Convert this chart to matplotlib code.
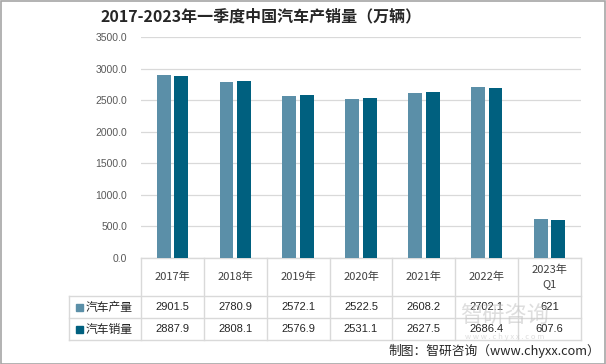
import numpy as np
import matplotlib.pyplot as plt
from matplotlib.patches import Rectangle

plt.rcParams["font.family"] = ["Noto Sans CJK SC", "DejaVu Sans"]

years = ["2017年", "2018年", "2019年", "2020年", "2021年", "2022年", "2023年\nQ1"]
production = [2901.5, 2780.9, 2572.1, 2522.5, 2608.2, 2702.1, 621]
sales = [2887.9, 2808.1, 2576.9, 2531.1, 2627.5, 2686.4, 607.6]
prod_labels = ["2901.5", "2780.9", "2572.1", "2522.5", "2608.2", "2702.1", "621"]
sales_labels = ["2887.9", "2808.1", "2576.9", "2531.1", "2627.5", "2686.4", "607.6"]
series_names = ["汽车产量", "汽车销量"]

c_prod = "#5B8FA8"
c_sales = "#00607F"
c_grid = "#D9D9D9"
c_text = "#404040"

W, H = 606, 364
fig = plt.figure(figsize=(W / 100, H / 100), dpi=100)
ax = fig.add_axes([141 / W, 1 - 258 / H, 440 / W, 221 / H])

x = np.arange(len(years))
bw = 0.22
ax.bar(x - 0.14, production, width=bw, color=c_prod, zorder=3)
ax.bar(x + 0.14, sales, width=bw, color=c_sales, zorder=3)

ax.set_xlim(-0.5, len(years) - 0.5)
ax.set_ylim(0, 3500)
ax.set_yticks(np.arange(0, 3501, 500))
ax.set_yticklabels([f"{v:.1f}" for v in np.arange(0, 3501, 500)], fontsize=7.5, color="#595959",
                   family=["Liberation Sans", "DejaVu Sans"])
ax.tick_params(axis="y", length=0, pad=10)
ax.set_xticks([])
ax.grid(axis="y", color=c_grid, lw=0.9, zorder=0)
for s in ["top", "right", "left", "bottom"]:
    ax.spines[s].set_visible(False)

# table below the plot, in axes coords (x in data units)
ph = 221.0
def yy(px):
    return -(px - 258) / ph

tr = ax.get_xaxis_transform()
lx = -0.5 - 72 / 63.0
lkw = dict(color=c_grid, lw=1, transform=tr, clip_on=False)
for i in range(len(years) + 1):
    ax.plot([i - 0.5, i - 0.5], [yy(258), yy(340)], **lkw)
ax.plot([-0.5, len(years) - 0.5], [yy(258), yy(258)], **lkw)
for py in [296, 318, 340]:
    ax.plot([lx, len(years) - 0.5], [yy(py), yy(py)], **lkw)
ax.plot([lx, lx], [yy(296), yy(340)], **lkw)

num_font = ["Liberation Sans", "DejaVu Sans"]
for i in range(len(years)):
    ax.text(i, yy(277), years[i], transform=tr, ha="center", va="center", fontsize=8,
            color=c_text, linespacing=1.5)
    ax.text(i, yy(307), prod_labels[i], transform=tr, ha="center", va="center", fontsize=8,
            color="#262626", family=num_font)
    ax.text(i, yy(329), sales_labels[i], transform=tr, ha="center", va="center", fontsize=8,
            color="#262626", family=num_font)

for name, col, py in zip(series_names, [c_prod, c_sales], [307, 329]):
    fig.patches.append(Rectangle((76 / W, 1 - (py + 3.5) / H), 7 / W, 7 / H, color=col,
                                 transform=fig.transFigure))
    fig.text(86 / W, 1 - py / H, name, ha="left", va="center", fontsize=8.5, color="#262626")

# title
fig.text(261 / W, 1 - 16 / H, "2017-2023年一季度中国汽车产销量（万辆）", ha="center", va="center",
         fontsize=11.5, fontweight="bold", color="#262626")

# watermark
fig.text(505 / W, 1 - 316 / H, "智研咨询", ha="center", va="center", fontsize=16,
         color="#C8C8C8", alpha=0.6)
fig.text(505 / W, 1 - 337 / H, "w w w . c h y x x . c o m", ha="center", va="center", fontsize=5.5,
         color="#C8C8C8", alpha=0.6)

# source
fig.text(600 / W, 1 - 351 / H, "制图：智研咨询（www.chyxx.com）", ha="right", va="center",
         fontsize=9.2, color="#262626")

# outer border
fig.patches.append(Rectangle((0.5 / W, 0.5 / H), (W - 1.5) / W, (H - 1.5) / H, fill=False,
                             edgecolor="#A6A6A6", lw=1.2, transform=fig.transFigure))

fig.savefig("out.png", dpi=100)
